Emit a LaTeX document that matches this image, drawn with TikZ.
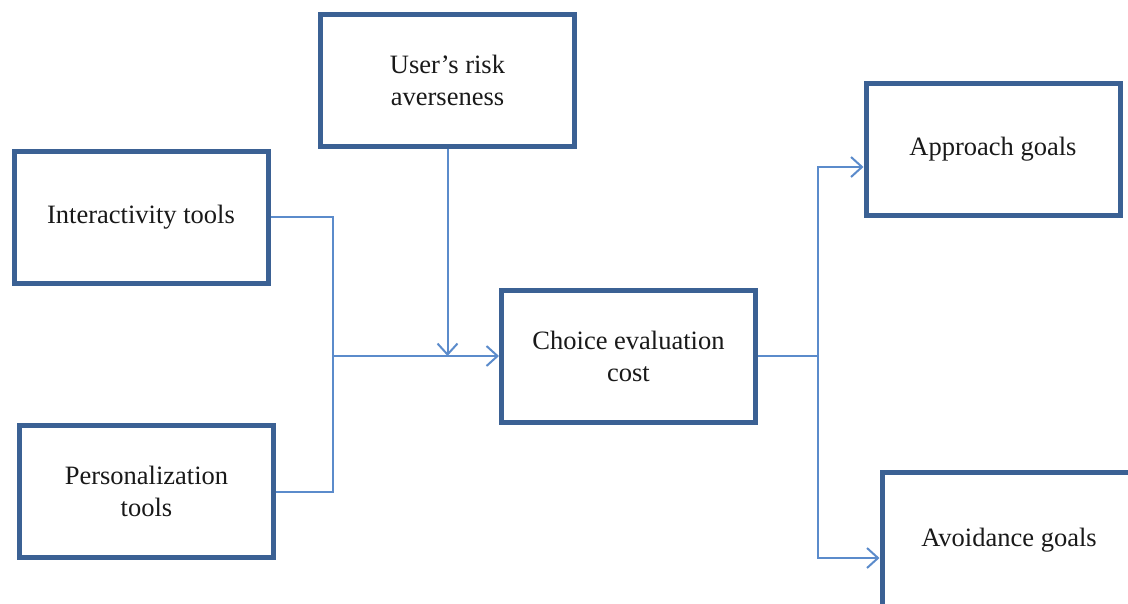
\documentclass[tikz,border=0pt]{standalone}
\usepackage{fontspec}
\setmainfont{Liberation Serif}
\usetikzlibrary{arrows.meta}
\definecolor{boxblue}{HTML}{3B6194}
\definecolor{lineblue}{HTML}{5B8BCB}
\tikzset{
  box/.style={draw=boxblue, line width=5pt, fill=white, minimum width=254pt,
    minimum height=132pt, align=center, text=black!90,
    font=\fontsize{26.5}{32}\selectfont},
  link/.style={draw=lineblue, line width=2pt},
  arr/.style={link, -{Straight Barb[length=11pt, width=20pt, line width=2pt]}}
}
\begin{document}
\begin{tikzpicture}[x=1pt, y=-1pt]
    \useasboundingbox (0,0) rectangle (1128,603);
    \clip (0,0) rectangle (1128,603);
    % Boxes
    \node[box] (inter) at (141,217) {Interactivity tools};
    \node[box] (pers) at (146.5,491.5) {Personalization\\tools};
    \node[box] (risk) at (447.5,80) {User’s risk\\averseness};
    \node[box] (choice) at (628.5,356) {Choice evaluation\\cost};
    \node[box] (approach) at (993,149) {Approach goals};
    \node[box, minimum height=148pt, text depth=18pt] (avoid) at (1009,546) {Avoidance goals};
    % Junctions
    \coordinate (join) at (333,356);
    \coordinate (split) at (818,356);
    % Inputs
    \draw[link] (inter.east) -| (join);
    \draw[link] (pers.east) -| (join);
    \draw[arr] (join) -- (choice.west);
    \draw[arr] (risk.south) -- (risk.south |- join);
    % Outputs
    \draw[link] (choice.east) -- (split);
    \draw[arr] (split) |- ([yshift=-18pt]approach.west);
    \draw[arr] (split) |- ([yshift=-12pt]avoid.west);
\end{tikzpicture}
\end{document}
